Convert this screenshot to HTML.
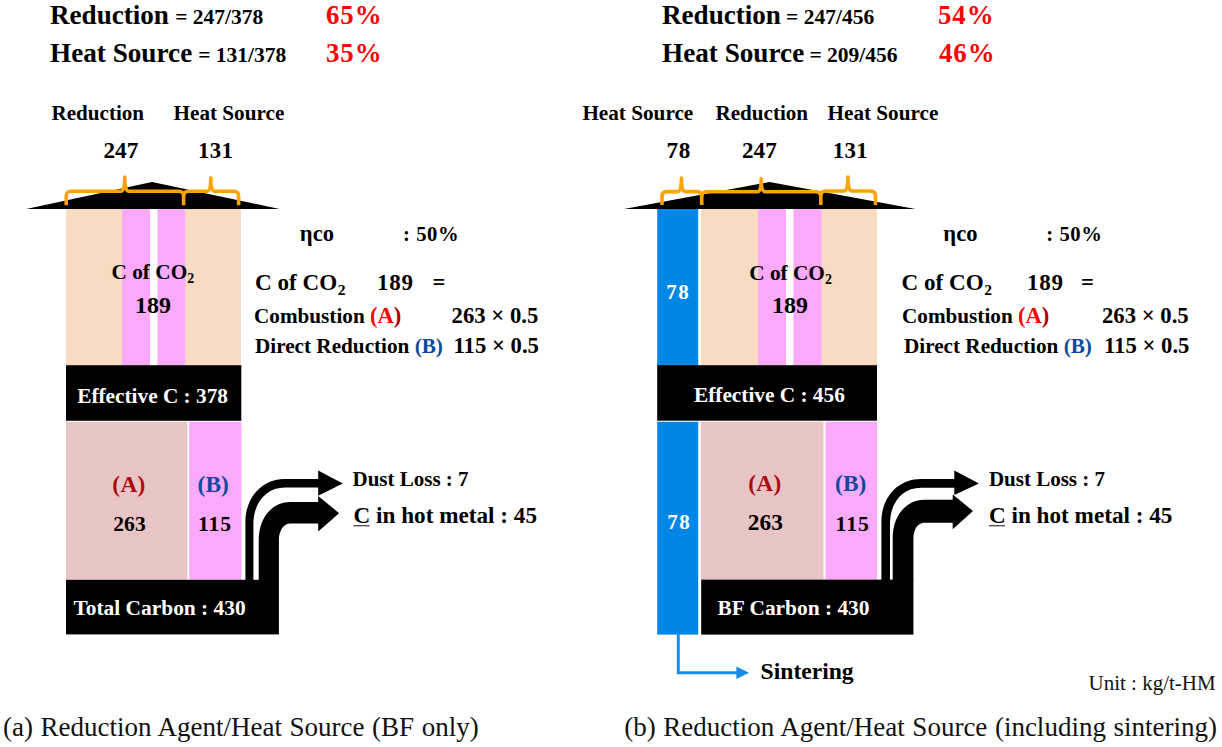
<!DOCTYPE html>
<html><head><meta charset="utf-8">
<style>
html,body{margin:0;padding:0;background:#fff;width:1222px;height:747px;overflow:hidden}
svg{display:block}
text{font-family:"Liberation Serif",serif;font-weight:bold}
.r{font-weight:normal;fill:#111}
.w{fill:#fff}
.red{fill:#ff0000}
</style></head>
<body>
<svg width="1222" height="747" viewBox="0 0 1222 747">
<!-- ============ LEFT PANEL ============ -->
<g id="A">
<!-- titles -->
<text x="50" y="24" font-size="27.1">Reduction</text>
<text x="175.2" y="23.7" font-size="21.5">= 247/378</text>
<text x="326" y="23.5" font-size="26.9" letter-spacing="0.9" class="red">65%</text>
<text x="50" y="62" font-size="27.2">Heat Source</text>
<text x="198.2" y="62.2" font-size="21.5">= 131/378</text>
<text x="326" y="62.3" font-size="26.9" letter-spacing="0.9" class="red">35%</text>
<!-- labels -->
<text x="51.5" y="119.5" font-size="21.1">Reduction</text>
<text x="173.5" y="119.5" font-size="21.2">Heat Source</text>
<text x="103.5" y="157.8" font-size="23.2">247</text>
<text x="198" y="157.8" font-size="22.8" letter-spacing="0.4">131</text>
<!-- roof -->
<polygon points="26.2,209 152,182 279.6,209" fill="#000"/>
<!-- column -->
<rect x="66" y="209" width="175" height="156.2" fill="#f9dbc1"/>
<rect x="122" y="209" width="28" height="156.2" fill="#faa9fb"/>
<rect x="157.4" y="209" width="27.8" height="156.2" fill="#faa9fb"/>
<rect x="150" y="209" width="7.4" height="156.2" fill="#fff"/>
<rect x="66" y="365.2" width="175.3" height="55.6" fill="#000"/>
<rect x="66" y="421.9" width="121.4" height="157.9" fill="#e8c5c4"/>
<rect x="189.2" y="421.9" width="52.2" height="157.9" fill="#faa9fb"/>
<rect x="66" y="579.8" width="212.9" height="54.6" fill="#000"/>
<!-- braces -->
<g fill="none" stroke="#fca300" stroke-width="3.6" stroke-linejoin="round" stroke-linecap="butt">
<path d="M66.2 205.2 L66.2 196.2 Q66.2 191.2 71.2 191.2 L121.0 191.2 Q124.8 191.2 124.8 177.0 Q124.8 191.2 128.6 191.2 L178.6 191.2 Q183.6 191.2 183.6 196.2 L183.6 205.2"/>
<path d="M183.6 196.2 Q183.6 191.2 188.6 191.2 L207.0 191.2 Q210.8 191.2 210.8 178.1 Q210.8 191.2 214.6 191.2 L233.6 191.2 Q238.6 191.2 238.6 196.2 L238.6 205.2"/>
</g>
<!-- column texts -->
<text x="111.5" y="279.3" font-size="21.3">C of CO<tspan font-size="14" dy="4">2</tspan></text>
<text x="135" y="312.6" font-size="23.9">189</text>
<text x="77.2" y="402.6" font-size="21.3" class="w">Effective C : 378</text>
<text x="112.3" y="491.5" font-size="23.4" letter-spacing="0.3" fill="#ac0a10">(A)</text>
<text x="113.3" y="530.8" font-size="21.6">263</text>
<text x="197.6" y="491.5" font-size="23.4" fill="#0c4a9e">(B)</text>
<text x="198" y="530.9" font-size="21.7" letter-spacing="0.9">115</text>
<text x="73.5" y="614.6" font-size="21.4" class="w">Total Carbon : 430</text>
<!-- arrows -->
<path d="M245.4 580 L245.4 522 C245.4 497 262 478.9 285 478.9 L318.2 478.9 L318.2 470.4 L342.8 483.4 L318.2 495.8 L318.2 487.5 L285 487.5 C266 487.5 253.4 503 253.4 524 L253.4 580 Z" fill="#000"/>
<path d="M258.7 581 L258.7 540 C258.7 518 272 502 290.3 502 L318.2 502 L318.2 496 L339.1 513.2 L318.2 531.4 L318.2 523.4 L290.3 523.4 C284 523.4 278.9 530 278.9 540 L278.9 581 Z" fill="#000"/>
<text x="352.5" y="485.6" font-size="21">Dust Loss : 7</text>
<text x="353.5" y="523" font-size="23.2">C in hot metal : 45</text>
<rect x="353.5" y="525" width="16" height="1.4" fill="#555"/>
<!-- right text -->
<text x="299.8" y="241" font-size="22.6">ηco</text>
<text x="403" y="241" font-size="20.6" letter-spacing="0.6">: 50%</text>
<text x="255" y="290.2" font-size="23.1">C of CO<tspan font-size="15.5" dx="0.6" dy="5">2</tspan></text>
<text x="377" y="290.4" font-size="23" letter-spacing="0.8">189</text>
<text x="432.5" y="290.4" font-size="22.6">=</text>
<text x="254" y="323" font-size="21.2">Combustion <tspan font-size="22.6" fill="#ff0000">(A</tspan><tspan font-size="22.6" fill="#a80000">)</tspan></text>
<text x="451.6" y="322.9" font-size="22.7">263 × 0.5</text>
<text x="255" y="353" font-size="21.2">Direct Reduction <tspan fill="#0c4a9e">(B)</tspan></text>
<text x="453.5" y="353" font-size="22.7">115 × 0.5</text>
<text x="3" y="736" font-size="27" word-spacing="0.8" class="r">(a) Reduction Agent/Heat Source (BF only)</text>
</g>

<!-- ============ RIGHT PANEL ============ -->
<g id="B">
<text x="662" y="24" font-size="27.1">Reduction</text>
<text x="786.1" y="24" font-size="21.5">= 247/456</text>
<text x="938" y="23.5" font-size="26.9" letter-spacing="0.9" class="red">54%</text>
<text x="662" y="61.7" font-size="27.2">Heat Source</text>
<text x="809.4" y="62" font-size="21.5">= 209/456</text>
<text x="939" y="62.3" font-size="26.9" letter-spacing="0.9" class="red">46%</text>
<text x="582.4" y="119.5" font-size="21.2">Heat Source</text>
<text x="715.5" y="119.5" font-size="21.1">Reduction</text>
<text x="827.5" y="119.5" font-size="21.2">Heat Source</text>
<text x="666.6" y="157.8" font-size="23.2" letter-spacing="0.5">78</text>
<text x="742" y="157.8" font-size="23.2">247</text>
<text x="832.7" y="157.8" font-size="22.8" letter-spacing="0.4">131</text>
<polygon points="624,209 769.6,182 915.5,209" fill="#000"/>
<rect x="657.2" y="209" width="41" height="157" fill="#0087e6"/>
<rect x="657.2" y="421.8" width="41" height="212.8" fill="#0087e6"/>
<rect x="700.9" y="209" width="176.1" height="156.2" fill="#f9dbc1"/>
<rect x="758" y="209" width="28" height="156.2" fill="#faa9fb"/>
<rect x="793.3" y="209" width="28.3" height="156.2" fill="#faa9fb"/>
<rect x="786" y="209" width="7.3" height="156.2" fill="#fff"/>
<rect x="657.2" y="365.2" width="219.8" height="55.5" fill="#000"/>
<rect x="700.9" y="421.8" width="122.6" height="157.8" fill="#e8c5c4"/>
<rect x="825.4" y="421.8" width="51.6" height="157.8" fill="#faa9fb"/>
<rect x="701.2" y="579.6" width="212.2" height="55" fill="#000"/>
<g fill="none" stroke="#fca300" stroke-width="3.6" stroke-linejoin="round">
<path d="M662 205 L662 196.6 Q662 191.6 667 191.6 L677.6 191.6 Q681.4 191.6 681.4 178.1 Q681.4 191.6 685.2 191.6 L696.7 191.6 Q701.7 191.6 701.7 196.6 L701.7 205"/>
<path d="M701.7 196.7 Q701.7 191.7 706.7 191.7 L757.4 191.7 Q761.2 191.7 761.2 178.7 Q761.2 191.7 765.0 191.7 L815.8 191.7 Q820.8 191.7 820.8 196.7 L820.8 205"/>
<path d="M820.8 196 Q820.8 191 825.8 191 L844.1 191 Q847.9 191 847.9 177.0 Q847.9 191 851.7 191 L870.5 191 Q875.5 191 875.5 196 L875.5 205"/>
</g>
<text x="666.3" y="298.9" font-size="21" letter-spacing="1.5" class="w">78</text>
<text x="749.2" y="279.6" font-size="21.3">C of CO<tspan font-size="14" dy="4">2</tspan></text>
<text x="772" y="312.8" font-size="23.9">189</text>
<text x="694" y="401.8" font-size="21.3" class="w">Effective C : 456</text>
<text x="667.3" y="529" font-size="21" letter-spacing="1.5" class="w">78</text>
<text x="748.2" y="491.3" font-size="23.4" letter-spacing="0.3" fill="#ac0a10">(A)</text>
<text x="747.8" y="529.7" font-size="23.4">263</text>
<text x="835.1" y="491.3" font-size="23.4" fill="#0c4a9e">(B)</text>
<text x="835.6" y="530.7" font-size="21.7" letter-spacing="0.9">115</text>
<text x="717.6" y="614.5" font-size="21.4" class="w">BF Carbon : 430</text>
<!-- sintering -->
<path d="M678.3 634 L678.3 672.8 L740 672.8" fill="none" stroke="#168ae6" stroke-width="2.9"/>
<polygon points="736.4,666.6 749,672.8 736.4,679" fill="#168ae6"/>
<text x="760.6" y="679" font-size="23.6">Sintering</text>
<!-- arrows -->
<path d="M881.4 580 L881.4 522 C881.4 497 898 478.9 921 478.9 L954.3 478.9 L954.3 470.6 L978.9 483.4 L954.3 495 L954.3 487.7 L921 487.7 C902 487.7 890 503 890 524 L890 580 Z" fill="#000"/>
<path d="M892.7 580.5 L892.7 538 C892.7 516 906 499.8 924.3 499.8 L952.7 499.8 L952.7 494.5 L973 511 L952.7 529.3 L952.7 522.8 L924.3 522.8 C918 522.8 913.4 529 913.4 539 L913.4 580.5 Z" fill="#000"/>
<text x="988.9" y="485.6" font-size="21">Dust Loss : 7</text>
<text x="988.9" y="523" font-size="23.2">C in hot metal : 45</text>
<rect x="988.9" y="525" width="16" height="1.4" fill="#555"/>
<text x="943.3" y="241" font-size="22.6">ηco</text>
<text x="1046.2" y="241" font-size="20.6" letter-spacing="0.6">: 50%</text>
<text x="901.6" y="290.2" font-size="23.1">C of CO<tspan font-size="15.5" dx="0.6" dy="5">2</tspan></text>
<text x="1027" y="290.4" font-size="23" letter-spacing="0.8">189</text>
<text x="1081" y="290.4" font-size="22.6">=</text>
<text x="902" y="323" font-size="21.2">Combustion <tspan font-size="22.6" fill="#ff0000">(A</tspan><tspan font-size="22.6" fill="#a80000">)</tspan></text>
<text x="1102" y="322.9" font-size="22.7">263 × 0.5</text>
<text x="904" y="353" font-size="21.2">Direct Reduction <tspan fill="#0c4a9e">(B)</tspan></text>
<text x="1104" y="353" font-size="22.7">115 × 0.5</text>
<text x="1088.5" y="689.8" font-size="21" class="r">Unit : kg/t-HM</text>
<text x="624.3" y="736" font-size="27" word-spacing="0.8" class="r">(b) Reduction Agent/Heat Source (including sintering)</text>
</g>
</svg>
</body></html>
